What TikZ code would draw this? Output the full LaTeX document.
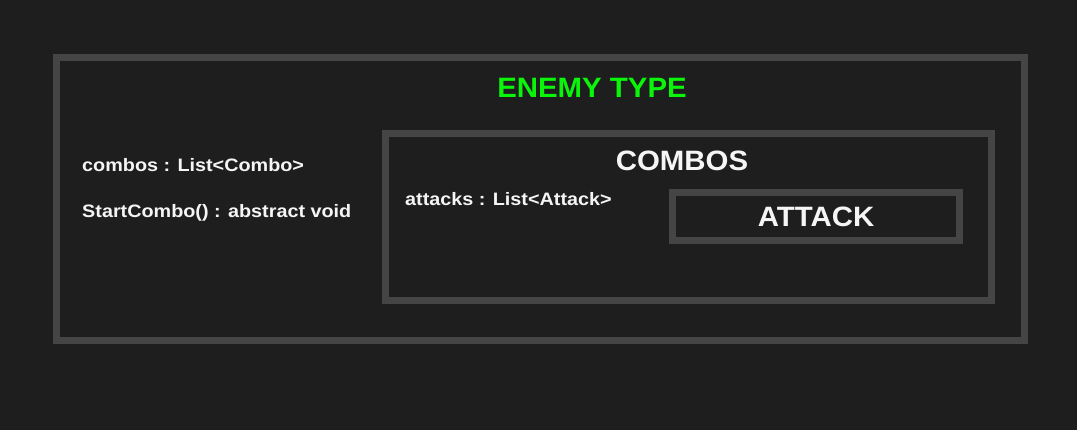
\documentclass[tikz,border=0pt]{standalone}
\usepackage{fontspec}
\setmainfont{Liberation Sans}
\definecolor{bg}{HTML}{1E1E1E}
\definecolor{frame}{HTML}{454545}
\definecolor{titlegreen}{HTML}{0AF50A}
\definecolor{txt}{HTML}{F5F5F5}
\begin{document}
\begin{tikzpicture}[x=1pt,y=-1pt,
  box/.style={draw=frame, line width=7pt, rectangle, inner sep=0pt, fill=none},
  title/.style={font=\fontsize{28}{30}\selectfont\bfseries, inner sep=0pt, anchor=base},
  label/.style={font=\fontsize{18}{20}\selectfont\bfseries, text=txt, inner sep=0pt, anchor=base west}]
  \fill[bg] (0,0) rectangle (1077,430);
  \useasboundingbox (0,0) rectangle (1077,430);
  \node[box, minimum width=967.5pt, minimum height=283pt] (enemy) at (540.25,199.5) {};
  \node[box, minimum width=606pt, minimum height=166.5pt] (combos) at (688,217.25) {};
  \node[box, minimum width=287.5pt, minimum height=48pt] (attack) at (815.75,217) {};
  \node[title, text=titlegreen] (enemyT) at (592,98) {\scalebox{1.05}[1]{ENEMY TYPE}};
  \node[title, text=txt] (combosT) at (682,171) {\scalebox{1.05}[1]{COMBOS}};
  \node[title, text=txt] (attackT) at (816,227) {\scalebox{1.05}[1]{ATTACK}};
  \node[label] (l1) at (82,172) {\scalebox{1.1}[1]{combos : List<Combo>}};
  \node[label] (l2) at (82,217.5) {\scalebox{1.1}[1]{StartCombo() : abstract void}};
  \node[label] (l3) at (405,206) {\scalebox{1.1}[1]{attacks : List<Attack>}};
\end{tikzpicture}
\end{document}
